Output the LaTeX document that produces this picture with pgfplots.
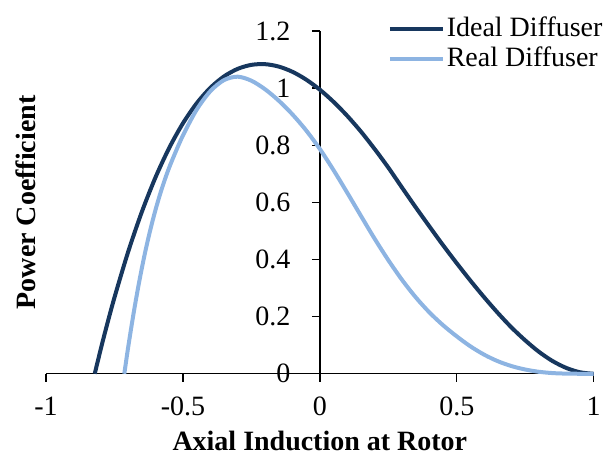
\documentclass[border=0pt]{standalone}
\usepackage{fontspec}
\setmainfont{Liberation Serif}
\usepackage{pgfplots}
\pgfplotsset{compat=1.18}
\usetikzlibrary{calc}
\definecolor{ideal}{HTML}{17375E}
\definecolor{real}{HTML}{8DB4E2}

% Power coefficient against axial induction at the rotor
\pgfplotstableread{
a    cp
-0.822 0.0000
-0.80 0.0862
-0.78 0.1610
-0.75 0.2668
-0.70 0.4266
-0.65 0.5666
-0.60 0.6877
-0.55 0.7907
-0.50 0.8766
-0.45 0.9464
-0.40 1.0008
-0.35 1.0409
-0.30 1.0674
-0.25 1.0814
-0.20 1.0838
-0.15 1.0754
-0.10 1.0571
-0.05 1.0299
0.00 0.9946
0.05 0.9520
0.10 0.9030
0.15 0.8480
0.20 0.7870
0.25 0.7220
0.30 0.6520
0.35 0.5830
0.40 0.5160
0.45 0.4500
0.50 0.3870
0.55 0.3260
0.60 0.2680
0.65 0.2130
0.70 0.1620
0.75 0.1170
0.80 0.0770
0.85 0.0445
0.90 0.0205
0.95 0.0053
1.00 0.0000
}\idealtab

\pgfplotstableread{
a    cp
-0.714 0.000
-0.70 0.092
-0.68 0.212
-0.66 0.320
-0.64 0.416
-0.62 0.500
-0.60 0.574
-0.58 0.639
-0.56 0.696
-0.54 0.746
-0.50 0.834
-0.45 0.924
-0.40 0.989
-0.35 1.028
-0.30 1.040
-0.25 1.026
-0.20 0.996
-0.15 0.956
-0.10 0.908
-0.05 0.852
0.00 0.787
0.05 0.713
0.10 0.634
0.15 0.553
0.20 0.473
0.25 0.398
0.30 0.329
0.35 0.268
0.40 0.215
0.45 0.170
0.50 0.131
0.55 0.096
0.60 0.067
0.65 0.044
0.70 0.027
0.75 0.015
0.80 0.007
0.85 0.0025
0.90 0.0006
0.95 0.0001
1.00 0.000
}\realtab

\begin{document}
\fontsize{28}{33}\selectfont
\begin{tikzpicture}
\begin{axis}[
  name=ax,
  scale only axis, width=548pt, height=343pt,
  xmin=-1, xmax=1, ymin=0, ymax=1.2,
  clip=false,
  axis lines=middle,
  axis line style={-, line width=1.4pt, black},
  xtick={-1,-0.5,0,0.5,1}, xticklabels={-1,-0.5,0,0.5,1},
  ytick={0,0.2,0.4,0.6,0.8,1,1.2}, yticklabels={0,0.2,0.4,0.6,0.8,1,1.2},
  hide obscured x ticks=false, hide obscured y ticks=false,
  tick align=outside, major tick length=8pt,
  tick style={line width=1.4pt, black},
  ticklabel style={font=\fontsize{28}{33}\selectfont},
  xticklabel style={yshift=-6pt},
  yticklabel style={xshift=-12pt},
  every axis x label/.style={at={(axis description cs:0.5,0)}, anchor=north, yshift=-48pt, font=\bfseries\fontsize{28}{33}\selectfont},
  every axis y label/.style={at={(axis description cs:-0.002,0.5)}, rotate=90, anchor=south, font=\bfseries\fontsize{28}{33}\selectfont},
  xlabel={Axial Induction at Rotor},
  ylabel={Power Coefficient},
  legend style={at={(1.02,1.047)}, anchor=north east, draw=none, fill=none, inner sep=0pt, row sep=2pt, font=\fontsize{28}{33}\selectfont},
  legend cell align=left,
  legend image code/.code={\draw[#1] (0pt,0pt) -- (53pt,0pt);},
]
\addplot[ideal, line width=4pt, smooth] table[x=a, y=cp] {\idealtab};
\addlegendentry{Ideal Diffuser}
\addplot[real, line width=4pt, smooth] table[x=a, y=cp] {\realtab};
\addlegendentry{Real Diffuser}
\end{axis}
\path ($(ax.south west)+(-46pt,-78pt)$) rectangle ($(ax.north east)+(16pt,31pt)$);
\end{tikzpicture}
\end{document}
